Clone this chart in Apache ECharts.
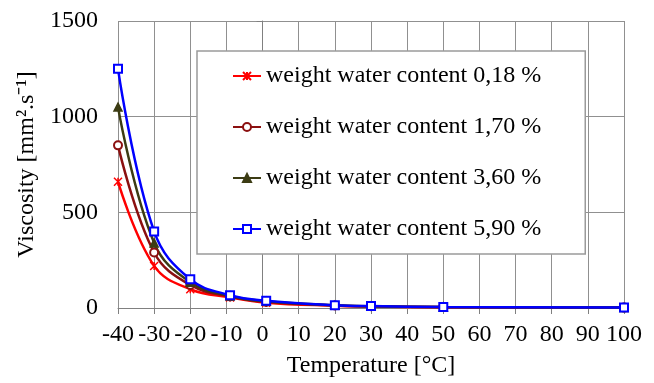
<!DOCTYPE html>
<html>
<head>
<meta charset="utf-8">
<script src="https://cdn.jsdelivr.net/npm/echarts@6/dist/echarts.min.js"></script>
<style>
  html, body { margin: 0; padding: 0; background: #fff; }
  #chart { width: 654px; height: 383px; }
</style>
</head>
<body>
<div id="chart"></div>
<script>
// temperatures [°C]
const temps = [-40, -30, -20, -9, 1, 20, 30, 50, 100];
// viscosity [mm2/s] per water content
const visc018 = [660, 220, 98, 55, 28, 12, 8, 4, 2];
const visc170 = [850, 290, 120, 60, 32, 13, 9, 5, 2];
const visc360 = [1050, 340, 135, 63, 35, 14, 9, 5, 2];
const visc590 = [1250, 400, 150, 67, 38, 15, 10, 5, 2];
const seriesNames = [
  "weight water content 0,18 %",
  "weight water content 1,70 %",
  "weight water content 3,60 %",
  "weight water content 5,90 %",
];

const FONT = "'Liberation Serif', 'Times New Roman', serif";
const crossPath = "path://M0,0L10,10M10,0L0,10M5,0L5,10";

const pairs = (ys) => temps.map((t, i) => [t, ys[i]]);

const makeSeries = (name, ys, color, symbol) => ({
  name,
  type: "line",
  data: pairs(ys),
  smooth: 0.4,
  symbol,
  symbolSize: 8,
  showSymbol: true,
  lineStyle: { color, width: 2.5 },
  itemStyle: { color, borderColor: color, borderWidth: 1.5 },
  z: 3,
});

const chart = echarts.init(document.getElementById("chart"));
chart.setOption({
  animation: false,
  grid: { left: 118, right: 30, top: 21, bottom: 71 },
  xAxis: {
    type: "value",
    min: -40,
    max: 100,
    interval: 10,
    name: "Temperature [°C]",
    nameLocation: "middle",
    nameGap: 46,
    nameTextStyle: { fontFamily: FONT, fontSize: 24, color: "#000" },
    axisLine: { show: true, lineStyle: { color: "#808080", width: 1 } },
    axisTick: { show: true, length: 6, lineStyle: { color: "#808080" } },
    axisLabel: { fontFamily: FONT, fontSize: 24, color: "#000", margin: 15 },
    splitLine: { show: true, lineStyle: { color: "#909090", width: 1 } },
  },
  yAxis: {
    type: "value",
    min: 0,
    max: 1500,
    interval: 500,
    name: "Viscosity [mm².s⁻¹]",
    nameLocation: "middle",
    nameGap: 76,
    nameTextStyle: { fontFamily: FONT, fontSize: 24, color: "#000" },
    axisLine: { show: true, lineStyle: { color: "#808080", width: 1 } },
    axisTick: { show: true, length: 6, lineStyle: { color: "#808080" } },
    axisLabel: {
      fontFamily: FONT,
      fontSize: 24,
      color: "#000",
      margin: 20,
      formatter: (v) => String(v),
    },
    splitLine: { show: true, lineStyle: { color: "#909090", width: 1 } },
  },
  legend: {
    orient: "vertical",
    left: 197,
    top: 51,
    padding: [13, 44, 13, 35],
    itemGap: 27,
    itemWidth: 28,
    itemHeight: 10,
    backgroundColor: "#fff",
    borderColor: "#9a9a9a",
    borderWidth: 1.5,
    textStyle: { fontFamily: FONT, fontSize: 24, color: "#000" },
    data: seriesNames,
  },
  series: [
    makeSeries(seriesNames[0], visc018, "#ff0000", crossPath),
    makeSeries(seriesNames[1], visc170, "#8b1010", "emptyCircle"),
    makeSeries(seriesNames[2], visc360, "#3c3c14", "triangle"),
    makeSeries(seriesNames[3], visc590, "#0000ff", "emptyRect"),
  ],
});
</script>
</body>
</html>
